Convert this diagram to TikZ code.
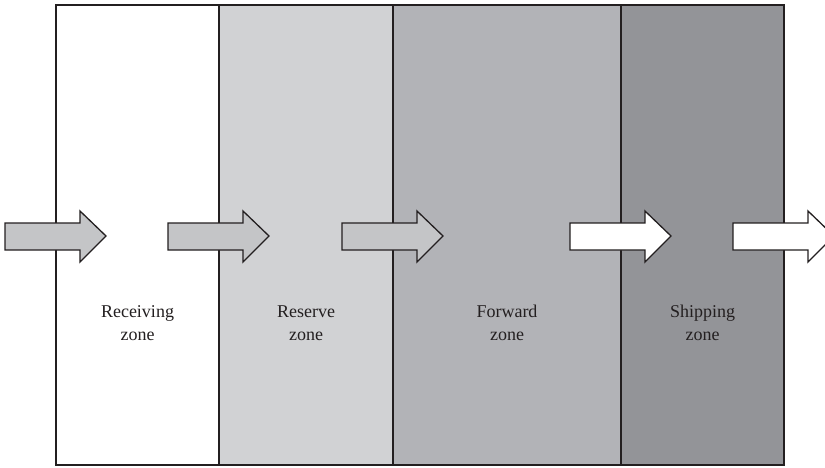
\documentclass[tikz,border=0pt]{standalone}
\usepackage{fontspec}
\setmainfont{Liberation Serif}
\definecolor{ink}{HTML}{231F20}
\definecolor{zoneA}{HTML}{FFFFFF}
\definecolor{zoneB}{HTML}{D1D2D4}
\definecolor{zoneC}{HTML}{B2B3B7}
\definecolor{zoneD}{HTML}{939498}
\definecolor{arrowgray}{HTML}{C4C5C7}
\begin{document}
\begin{tikzpicture}[x=1pt,y=-1pt,
  zonebox/.style={draw=ink,line width=1.6pt,inner sep=0pt,minimum height=460pt},
  zonelabel/.style={align=center,text=ink,font=\fontsize{18}{23}\selectfont},
  bigarrow/.style={draw=ink,line width=1.3pt,line join=miter}]
\useasboundingbox (0,0) rectangle (825,467);
\clip (0,0) rectangle (825,467);
\node[zonebox,fill=zoneA,minimum width=163pt] (rec) at (137.5,235) {};
\node[zonebox,fill=zoneB,minimum width=174pt] (res) at (306,235) {};
\node[zonebox,fill=zoneC,minimum width=228pt] (fwd) at (507,235) {};
\node[zonebox,fill=zoneD,minimum width=163pt] (shp) at (702.5,235) {};
\node[zonelabel] (recl) at (137.5,323) {Receiving\\zone};
\node[zonelabel] (resl) at (306,323) {Reserve\\zone};
\node[zonelabel] (fwdl) at (507,323) {Forward\\zone};
\node[zonelabel] (shpl) at (702.5,323) {Shipping\\zone};
\foreach \xo/\col in {5/arrowgray,168/arrowgray,342/arrowgray,570/white,733/white}{
  \draw[bigarrow,fill=\col] (\xo,223) -- ++(75,0) -- ++(0,-12) -- ++(26,25) -- ++(-26,26) -- ++(0,-12) -- ++(-75,0) -- cycle;
}
\end{tikzpicture}
\end{document}
